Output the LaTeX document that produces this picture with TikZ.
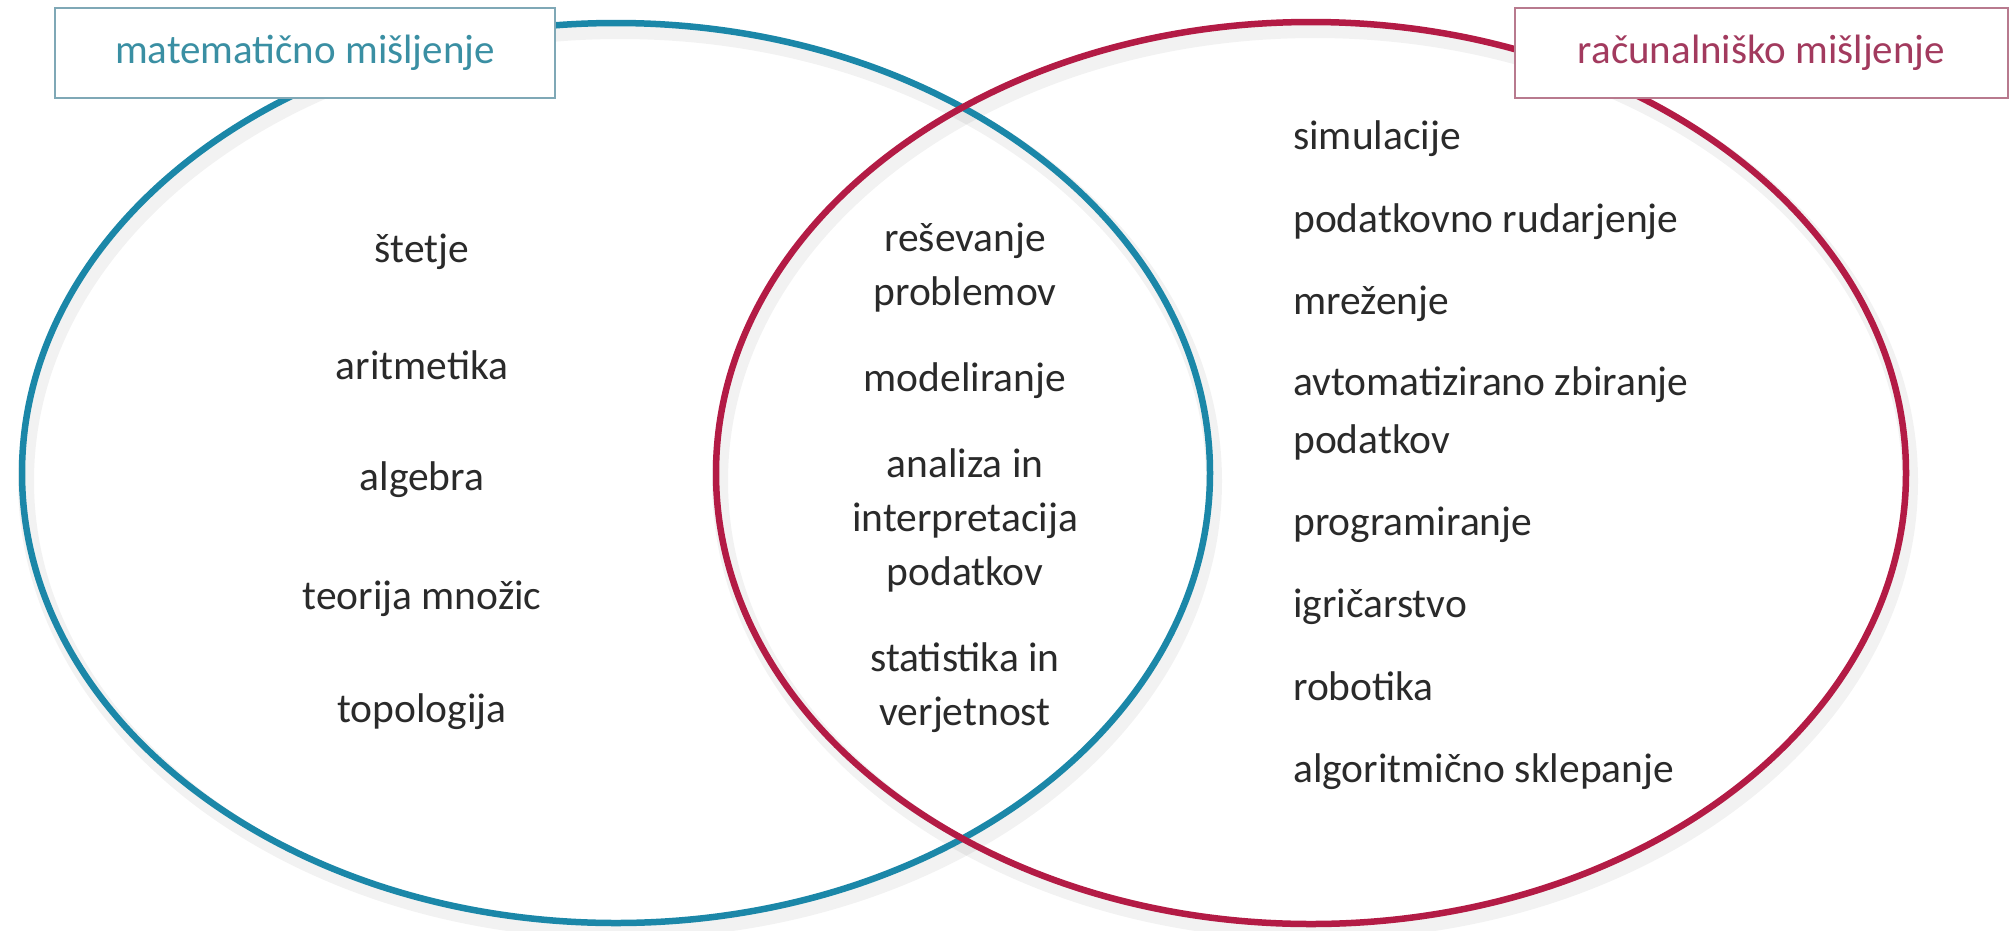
\documentclass[tikz,border=0pt]{standalone}
\usepackage{fontspec}
\setmainfont{Carlito}
\definecolor{mblue}{HTML}{1B87A8}
\definecolor{mred}{HTML}{B31B45}
\definecolor{tblue}{HTML}{3A8FA3}
\definecolor{tred}{HTML}{A23A5E}
\definecolor{bblue}{HTML}{7FA8B6}
\definecolor{bred}{HTML}{B87A8E}
\definecolor{ink}{HTML}{2A2A2A}
\begin{document}
\begin{tikzpicture}[x=1pt,y=-1pt,
  item/.style={font=\fontsize{41.5}{50}\selectfont, text=ink, inner sep=0pt},
  titlebox/.style={draw, line width=1.8pt, minimum height=90pt, inner sep=0pt,
    font=\fontsize{41}{50}\selectfont},
  venn/.style={line width=6.5pt},
  vshadow/.style={black, opacity=0.05, line width=16pt}]
\useasboundingbox (0,0) rectangle (2010,930);
\fill[white] (0,0) rectangle (2010,930);
% soft shadows
\draw[vshadow] (620,481) ellipse [x radius=594pt, y radius=450pt];
\draw[vshadow] (1315,481) ellipse [x radius=595pt, y radius=451pt];
% circles
\draw[venn, mblue] (616,473) ellipse [x radius=594pt, y radius=450pt];
\draw[venn, mred] (1311,473) ellipse [x radius=595pt, y radius=451pt];
% titles
\node[titlebox, draw=bblue, fill=white, text=tblue, minimum width=500pt] (tL) at (305,53) {matematično mišljenje};
\node[titlebox, draw=bred, fill=white, text=tred, minimum width=493pt] (tR) at (1761.5,53) {računalniško mišljenje};
% left column
\node[item, anchor=mid] (l1) at (422,260) {štetje};
\node[item, anchor=mid] (l2) at (422,377) {aritmetika};
\node[item, anchor=mid] (l3) at (422,488) {algebra};
\node[item, anchor=mid] (l4) at (422,607) {teorija množic};
\node[item, anchor=mid] (l5) at (422,720) {topologija};
% centre column
\node[item, anchor=mid] (c1) at (965,249) {reševanje};
\node[item, anchor=mid] (c2) at (965,303) {problemov};
\node[item, anchor=mid] (c3) at (965,389) {modeliranje};
\node[item, anchor=mid] (c4) at (965,475) {analiza in};
\node[item, anchor=mid] (c5) at (965,529) {interpretacija};
\node[item, anchor=mid] (c6) at (965,583) {podatkov};
\node[item, anchor=mid] (c7) at (965,669) {statistika in};
\node[item, anchor=mid] (c8) at (965,723) {verjetnost};
% right column
\node[item, anchor=mid west] (r1) at (1293,147) {simulacije};
\node[item, anchor=mid west] (r2) at (1293,230) {podatkovno rudarjenje};
\node[item, anchor=mid west] (r3) at (1293,312) {mreženje};
\node[item, anchor=mid west] (r4) at (1293,393) {avtomatizirano zbiranje};
\node[item, anchor=mid west] (r5) at (1293,451) {podatkov};
\node[item, anchor=mid west] (r6) at (1293,533) {programiranje};
\node[item, anchor=mid west] (r7) at (1293,615) {igričarstvo};
\node[item, anchor=mid west] (r8) at (1293,698) {robotika};
\node[item, anchor=mid west] (r9) at (1293,780) {algoritmično sklepanje};
\end{tikzpicture}
\end{document}
